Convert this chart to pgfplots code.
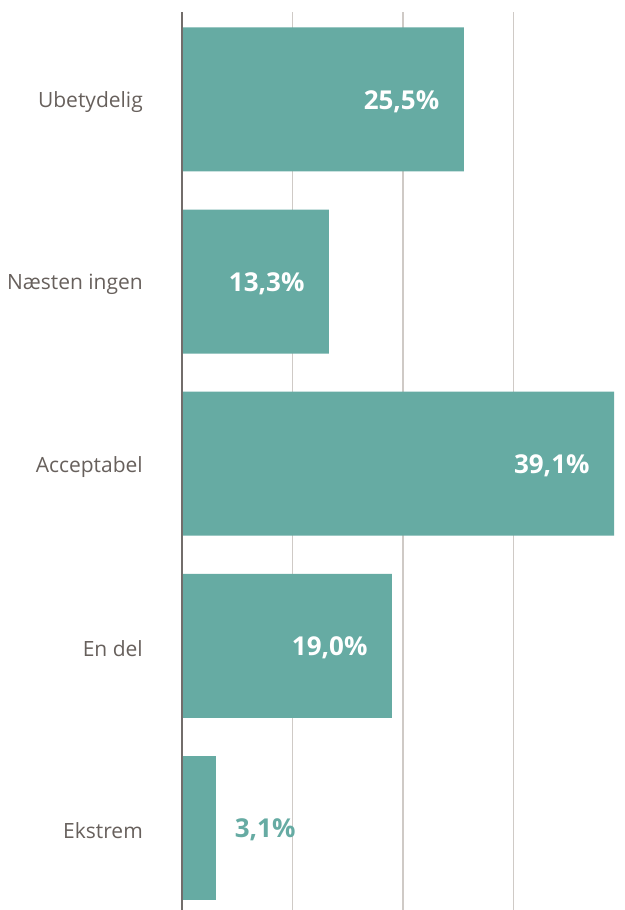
\documentclass[border=0pt]{standalone}
\usepackage{fontspec}
\setmainfont{Open Sans}
\usepackage{pgfplots}
\pgfplotsset{compat=1.18}
\definecolor{barc}{HTML}{66ABA3}
\definecolor{labc}{HTML}{67605C}
\definecolor{axc}{HTML}{726D6B}
\definecolor{gridc}{HTML}{CFCAC6}
\begin{document}
\begin{tikzpicture}
\begin{axis}[
  scale only axis,
  width=442pt, height=898pt,
  xmin=0, xmax=40, ymin=-0.45, ymax=4.48,
  xbar, bar shift=0pt, bar width=144pt,
  axis line style={draw=none},
  xtick={10,20,30}, xticklabels={},
  xmajorgrids, grid style={gridc, line width=1.5pt},
  major tick length=0pt,
  ytick={0,1,2,3,4},
  yticklabels={Ekstrem,En del,Acceptabel,Næsten ingen,Ubetydelig},
  yticklabel style={font=\fontsize{21}{25}\selectfont, text=labc, inner sep=0pt, xshift=-39pt, yshift=-3pt},
  clip=false,
  point meta=explicit symbolic,
  nodes near coords,
]
\addplot[fill=barc, draw=none,
  nodes near coords style={anchor=east, xshift=-21pt, yshift=-2pt, text=white, font=\fontsize{26}{30}\selectfont\bfseries}]
  coordinates {(25.5,4) [25,5\%] (13.3,3) [13,3\%] (39.1,2) [39,1\%] (19.0,1) [19,0\%]};
\addplot[fill=barc, draw=none,
  nodes near coords style={anchor=west, xshift=15pt, yshift=-2pt, text=barc, font=\fontsize{26}{30}\selectfont\bfseries}]
  coordinates {(3.1,0) [3,1\%]};
\draw[axc, line width=2.5pt] (axis cs:0,-0.45) -- (axis cs:0,4.48);
\end{axis}
\pgfresetboundingbox
\path ([xshift=-182pt]current axis.south west) rectangle ([yshift=12pt]current axis.north east);
\end{tikzpicture}
\end{document}
